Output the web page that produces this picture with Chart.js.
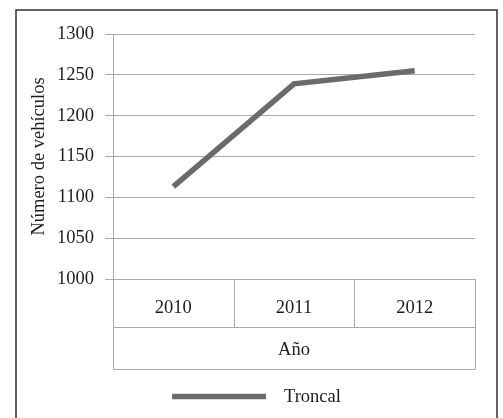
<!DOCTYPE html>
<html>
<head>
<meta charset="utf-8">
<script src="https://cdn.jsdelivr.net/npm/chart.js@4.4.1/dist/chart.umd.min.js"></script>
<style>
  html, body { margin: 0; padding: 0; background: #ffffff; }
  #wrap { width: 503px; height: 418px; }
</style>
</head>
<body>
<div id="wrap"><canvas id="c" width="503" height="418"></canvas></div>
<script>
// Vehicle counts per year, "Troncal" series
const categories = ['2010', '2011', '2012'];
const troncal = [1113, 1239, 1255];
const yTickValues = [1000, 1050, 1100, 1150, 1200, 1250, 1300];
const seriesLabel = 'Troncal';
const xAxisTitle = 'Año';
const yAxisTitle = 'Número de vehículos';

const FONT = "'Liberation Serif', 'Times New Roman', serif";
const TEXT = '#1c1c1c';
const GRID = '#a9a9a9';
const LINE = '#6b6b6d';
const YEAR_ROW = 48;   // height of the year row under the plot

// Outer frame around the figure
const framePlugin = {
  id: 'frame',
  beforeDraw(chart) {
    const ctx = chart.ctx;
    ctx.save();
    ctx.strokeStyle = '#2e2e2e';
    ctx.lineWidth = 1.5;
    ctx.strokeRect(16, 10, 481, 440);
    ctx.restore();
  }
};

// Table-style category axis: year cells with a spanning title row
const axisTablePlugin = {
  id: 'axisTable',
  afterDraw(chart) {
    const { ctx, scales: { x } } = chart;
    const top = x.top;
    const mid = Math.round(top + YEAR_ROW) + 0.5;
    const bottom = Math.round(x.bottom) + 0.5;
    const n = chart.data.labels.length;
    ctx.save();
    ctx.strokeStyle = GRID;
    ctx.lineWidth = 1;
    ctx.beginPath();
    for (let i = 0; i <= n; i++) {
      const px = Math.round(x.getPixelForValue(i - 0.5)) + 0.5;
      ctx.moveTo(px, top);
      ctx.lineTo(px, (i === 0 || i === n) ? bottom : mid);
    }
    ctx.moveTo(x.left, mid); ctx.lineTo(x.right, mid);
    ctx.moveTo(x.left, bottom); ctx.lineTo(x.right, bottom);
    ctx.stroke();
    ctx.restore();
  }
};

// Legend: line sample followed by the series name, centred in the frame
const lineLegendPlugin = {
  id: 'lineLegend',
  afterDraw(chart) {
    const ctx = chart.ctx;
    const ds = chart.data.datasets[0];
    const sampleLen = 94, gap = 18, y = 397;
    ctx.save();
    ctx.font = '18.5px ' + FONT;
    const tw = ctx.measureText(ds.label).width;
    const start = (16 + 497) / 2 - (sampleLen + gap + tw) / 2;
    ctx.strokeStyle = ds.borderColor;
    ctx.lineWidth = 5.5;
    ctx.beginPath();
    ctx.moveTo(start, y - 0.5);
    ctx.lineTo(start + sampleLen, y - 0.5);
    ctx.stroke();
    ctx.fillStyle = TEXT;
    ctx.textBaseline = 'middle';
    ctx.textAlign = 'left';
    ctx.fillText(ds.label, start + sampleLen + gap, y);
    ctx.restore();
  }
};

new Chart(document.getElementById('c'), {
  type: 'line',
  data: {
    labels: categories,
    datasets: [{
      label: seriesLabel,
      data: troncal,
      borderColor: LINE,
      backgroundColor: LINE,
      borderWidth: 5.5,
      borderCapStyle: 'butt',
      pointRadius: 0,
      pointHoverRadius: 0,
      tension: 0,
      fill: false
    }]
  },
  options: {
    responsive: false,
    animation: false,
    events: [],
    layout: { padding: { left: 0, top: 34, right: 28, bottom: 49 } },
    plugins: {
      legend: { display: false },
      tooltip: { enabled: false }
    },
    scales: {
      x: {
        type: 'category',
        offset: true,
        grid: { display: false },
        border: { display: false },
        ticks: {
          color: TEXT,
          font: { family: FONT, size: 18.5 },
          padding: 10,
          maxRotation: 0
        },
        title: {
          display: true,
          text: xAxisTitle,
          color: TEXT,
          font: { family: FONT, size: 18.5 },
          padding: { top: 0, bottom: 8 }
        },
        afterFit(scale) { scale.height = 90; }
      },
      y: {
        min: yTickValues[0],
        max: yTickValues[yTickValues.length - 1],
        afterBuildTicks(scale) { scale.ticks = yTickValues.map(v => ({ value: v })); },
        grid: { color: GRID, lineWidth: 1, tickLength: 8 },
        border: { display: true, color: GRID, width: 1 },
        ticks: {
          color: TEXT,
          font: { family: FONT, size: 18.5 },
          padding: 11,
          callback: (v) => String(v)
        },
        title: {
          display: true,
          text: yAxisTitle,
          color: TEXT,
          font: { family: FONT, size: 18.5 },
          padding: { top: 28, bottom: 0 }
        },
        afterFit(scale) { scale.width = 113; }
      }
    }
  },
  plugins: [framePlugin, axisTablePlugin, lineLegendPlugin]
});
</script>
</body>
</html>
